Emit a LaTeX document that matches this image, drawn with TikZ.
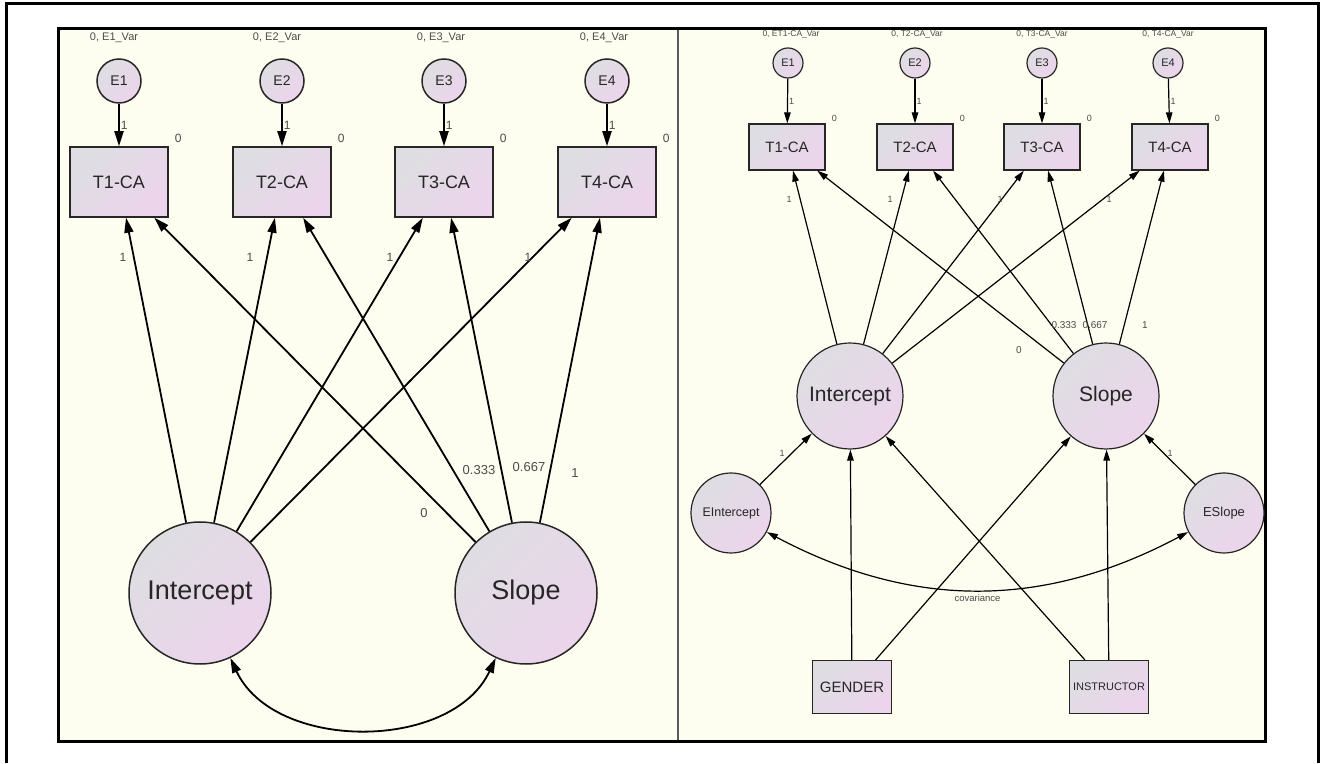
\documentclass[tikz,border=0pt]{standalone}
\usepackage{fontspec}
\setmainfont{Liberation Sans}
\usetikzlibrary{shapes.geometric, arrows.meta, positioning}
\definecolor{panelcream}{RGB}{254,254,240}
\definecolor{amosgray}{RGB}{222,222,226}
\definecolor{amospink}{RGB}{236,212,236}
\definecolor{labelgray}{RGB}{75,75,75}
\definecolor{dividergray}{RGB}{90,90,90}
\newcommand{\pxfont}[1]{\fontsize{#1}{#1}\selectfont}

\begin{document}
\begin{tikzpicture}[x=1pt, y=1pt,
  latent/.style={circle, draw=black!85, left color=amosgray, right color=amospink, shading angle=45, inner sep=0pt, text=black!85},
  observed/.style={rectangle, draw=black!85, left color=amosgray, right color=amospink, shading angle=45, inner sep=0pt, text=black!85},
  lbl/.style={text=labelgray, inner sep=1pt},
  bigarrow/.style={-{Triangle[length=15pt,width=9pt]}, line width=1.8pt},
  bigcov/.style={{Triangle[length=15pt,width=9pt]}-{Triangle[length=15pt,width=9pt]}, line width=1.8pt},
  smallarrow/.style={-{Triangle[length=11pt,width=6.5pt]}, line width=1.2pt},
  smallcov/.style={{Triangle[length=11pt,width=6.5pt]}-{Triangle[length=11pt,width=6.5pt]}, line width=1.2pt}]
\useasboundingbox (0,0) rectangle (1322,763);
\fill[white] (0,0) rectangle (1322,763);

% Frame and panels
\draw[line width=3pt] (6,0) -- (6,759) -- (1318,759) -- (1318,0);
\fill[panelcream] (58,22) rectangle (1265,734);
\draw[dividergray, line width=1.5pt] (678,22) -- (678,734);
\draw[line width=3pt] (58,22) rectangle (1265,734);

%%% Left panel
% Error terms
\node[latent, line width=1.5pt, minimum size=44pt] (le1) at (119,682) {\pxfont{14}E1};
\node[latent, line width=1.5pt, minimum size=44pt] (le2) at (282,682) {\pxfont{14}E2};
\node[latent, line width=1.5pt, minimum size=44pt] (le3) at (444,682) {\pxfont{14}E3};
\node[latent, line width=1.5pt, minimum size=44pt] (le4) at (607,682) {\pxfont{14}E4};
\node[lbl, above=14pt of le1, xshift=-5pt] (lv1) {\pxfont{11}0, E1\_Var};
\node[lbl, above=14pt of le2, xshift=-5pt] (lv2) {\pxfont{11}0, E2\_Var};
\node[lbl, above=14pt of le3, xshift=-3pt] (lv3) {\pxfont{11}0, E3\_Var};
\node[lbl, above=14pt of le4, xshift=-3pt] (lv4) {\pxfont{11}0, E4\_Var};

% Measures
\node[observed, line width=1.5pt, minimum width=98pt, minimum height=70pt] (lt1) at (119,581) {\pxfont{18}T1-CA};
\node[observed, line width=1.5pt, minimum width=98pt, minimum height=70pt] (lt2) at (282,581) {\pxfont{18}T2-CA};
\node[observed, line width=1.5pt, minimum width=98pt, minimum height=70pt] (lt3) at (444,581) {\pxfont{18}T3-CA};
\node[observed, line width=1.5pt, minimum width=98pt, minimum height=70pt] (lt4) at (607,581) {\pxfont{18}T4-CA};
\node[lbl, above right=2pt and 5pt of lt1.north east] (lz1) {\pxfont{12}0};
\node[lbl, above right=2pt and 5pt of lt2.north east] (lz2) {\pxfont{12}0};
\node[lbl, above right=2pt and 5pt of lt3.north east] (lz3) {\pxfont{12}0};
\node[lbl, above right=2pt and 5pt of lt4.north east] (lz4) {\pxfont{12}0};

\draw[bigarrow] (le1) -- (lt1) node[lbl, midway, right] (lu1) {\pxfont{12}1};
\draw[bigarrow] (le2) -- (lt2) node[lbl, midway, right] (lu2) {\pxfont{12}1};
\draw[bigarrow] (le3) -- (lt3) node[lbl, midway, right] (lu3) {\pxfont{12}1};
\draw[bigarrow] (le4) -- (lt4) node[lbl, midway, right] (lu4) {\pxfont{12}1};

% Growth factors
\node[latent, line width=1.5pt, minimum size=142pt] (licpt) at (200,170) {\pxfont{27}Intercept};
\node[latent, line width=1.5pt, minimum size=142pt] (lslope) at (526,170) {\pxfont{27}Slope};

\draw[bigarrow] (licpt) -- (lt1);
\draw[bigarrow] (licpt) -- (lt2);
\draw[bigarrow] (licpt) -- (lt3);
\draw[bigarrow] (licpt) -- (lt4);
\draw[bigarrow] (lslope) -- (lt1);
\draw[bigarrow] (lslope) -- (lt2);
\draw[bigarrow] (lslope) -- (lt3);
\draw[bigarrow] (lslope) -- (lt4);
\draw[bigcov] (licpt) to[out=-65, in=-115] (lslope);

\node[lbl] (lw1) at (123,506) {\pxfont{12}1};
\node[lbl] (lw2) at (250,506) {\pxfont{12}1};
\node[lbl] (lw3) at (390,506) {\pxfont{12}1};
\node[lbl] (lw4) at (528,506) {\pxfont{12}1};
\node[lbl] (ls0) at (424,250) {\pxfont{13}0};
\node[lbl] (ls1) at (479,293) {\pxfont{13}0.333};
\node[lbl] (ls2) at (529,296) {\pxfont{13}0.667};
\node[lbl] (ls3) at (575,290) {\pxfont{13}1};

%%% Right panel
% Error terms
\node[latent, line width=1.2pt, minimum size=30pt] (re1) at (788,700) {\pxfont{11}E1};
\node[latent, line width=1.2pt, minimum size=30pt] (re2) at (915,700) {\pxfont{11}E2};
\node[latent, line width=1.2pt, minimum size=30pt] (re3) at (1042,700) {\pxfont{11}E3};
\node[latent, line width=1.2pt, minimum size=30pt] (re4) at (1168,700) {\pxfont{11}E4};
\node[lbl, above=8pt of re1, xshift=3pt] (rv1) {\pxfont{8.5}0, ET1-CA\_Var};
\node[lbl, above=8pt of re2, xshift=2pt] (rv2) {\pxfont{8.5}0, T2-CA\_Var};
\node[lbl, above=8pt of re3] (rv3) {\pxfont{8.5}0, T3-CA\_Var};
\node[lbl, above=8pt of re4] (rv4) {\pxfont{8.5}0, T4-CA\_Var};

% Measures
\node[observed, line width=1.2pt, minimum width=76pt, minimum height=46pt] (rt1) at (787,616) {\pxfont{15}T1-CA};
\node[observed, line width=1.2pt, minimum width=76pt, minimum height=46pt] (rt2) at (915,616) {\pxfont{15}T2-CA};
\node[observed, line width=1.2pt, minimum width=76pt, minimum height=46pt] (rt3) at (1042,616) {\pxfont{15}T3-CA};
\node[observed, line width=1.2pt, minimum width=76pt, minimum height=46pt] (rt4) at (1170,616) {\pxfont{15}T4-CA};
\node[lbl, above right=1pt and 5pt of rt1.north east] (rz1) {\pxfont{9}0};
\node[lbl, above right=1pt and 5pt of rt2.north east] (rz2) {\pxfont{9}0};
\node[lbl, above right=1pt and 5pt of rt3.north east] (rz3) {\pxfont{9}0};
\node[lbl, above right=1pt and 5pt of rt4.north east] (rz4) {\pxfont{9}0};

\draw[smallarrow] (re1) -- (rt1) node[lbl, midway, right] (ru1) {\pxfont{9}1};
\draw[smallarrow] (re2) -- (rt2) node[lbl, midway, right] (ru2) {\pxfont{9}1};
\draw[smallarrow] (re3) -- (rt3) node[lbl, midway, right] (ru3) {\pxfont{9}1};
\draw[smallarrow] (re4) -- (rt4) node[lbl, midway, right] (ru4) {\pxfont{9}1};

% Growth factors and predictors
\node[latent, line width=1.2pt, minimum size=106pt] (ricpt) at (850,367) {\pxfont{21}Intercept};
\node[latent, line width=1.2pt, minimum size=106pt] (rslope) at (1106,367) {\pxfont{21}Slope};
\node[latent, line width=1.2pt, minimum size=80pt] (reicpt) at (731,250) {\pxfont{12.5}EIntercept};
\node[latent, line width=1.2pt, minimum size=80pt] (reslope) at (1224,250) {\pxfont{13}ESlope};
\node[observed, line width=1.2pt, minimum width=79pt, minimum height=53pt] (gender) at (852,76) {\pxfont{15}GENDER};
\node[observed, line width=1.2pt, minimum width=79pt, minimum height=53pt] (instr) at (1109,76) {\pxfont{11}INSTRUCTOR};

\draw[smallarrow] (ricpt) -- (rt1);
\draw[smallarrow] (ricpt) -- (rt2);
\draw[smallarrow] (ricpt) -- (rt3);
\draw[smallarrow] (ricpt) -- (rt4);
\draw[smallarrow] (rslope) -- (rt1);
\draw[smallarrow] (rslope) -- (rt2);
\draw[smallarrow] (rslope) -- (rt3);
\draw[smallarrow] (rslope) -- (rt4);

\draw[smallarrow] (reicpt) -- (ricpt);
\draw[smallarrow] (reslope) -- (rslope);
\draw[smallarrow] (gender) -- (ricpt);
\draw[smallarrow] (gender) -- (rslope);
\draw[smallarrow] (instr) -- (ricpt);
\draw[smallarrow] (instr) -- (rslope);
\draw[smallcov] (reicpt) to[out=-28, in=208] node[lbl, pos=0.5, below=3pt] (cov) {\pxfont{9.5}covariance} (reslope);

\node[lbl] (rw1) at (789,564) {\pxfont{9}1};
\node[lbl] (rw2) at (890,564) {\pxfont{9}1};
\node[lbl] (rw3) at (1000,564) {\pxfont{9}1};
\node[lbl] (rw4) at (1109,564) {\pxfont{9}1};
\node[lbl] (rs0) at (1019,413) {\pxfont{10}0};
\node[lbl] (rs1) at (1064,438) {\pxfont{10}0.333};
\node[lbl] (rs2) at (1095,438) {\pxfont{10}0.667};
\node[lbl] (rs3) at (1145,438) {\pxfont{10}1};
\node[lbl] (rf1) at (782,310) {\pxfont{9}1};
\node[lbl] (rf2) at (1170,310) {\pxfont{9}1};
\end{tikzpicture}
\end{document}
